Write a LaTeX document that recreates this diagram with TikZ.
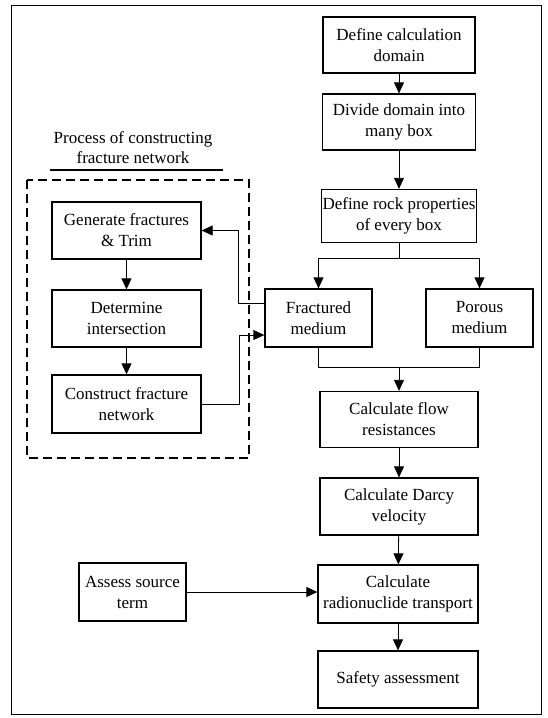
\documentclass[tikz,border=0pt]{standalone}
\usepackage{fontspec}
\setmainfont{Liberation Serif}
\usetikzlibrary{arrows.meta}
\begin{document}
\begin{tikzpicture}[x=1pt,y=-1pt,
  box/.style={draw, line width=1.3pt, rectangle, inner sep=0pt, align=center,
    font=\fontsize{17}{21}\selectfont},
  arr/.style={line width=0.8pt, -{Triangle[length=11pt,width=10pt]}},
  ln/.style={line width=0.8pt},
  dashbox/.style={draw, line width=2.6pt, dash pattern=on 9pt off 5pt}]
\useasboundingbox (0,0) rectangle (547,718);
\draw[line width=0.9pt] (11,5) rectangle (541,714);

% right column
\node[box, minimum width=152pt, minimum height=56pt] (calc) at (399,45) {Define calculation\\domain};
\node[box, minimum width=153pt, minimum height=56pt] (divide) at (399,122) {Divide domain into\\many box};
\node[box, minimum width=155pt, minimum height=53pt] (rock) at (399,216) {Define rock properties\\of every box};
\node[box, minimum width=107pt, minimum height=58pt] (frac) at (318.5,318) {Fractured\\medium};
\node[box, minimum width=107pt, minimum height=58pt] (por) at (479.5,318) {Porous\\medium};
\node[box, minimum width=158pt, minimum height=56pt] (flow) at (399,419.5) {Calculate flow\\resistances};
\node[box, minimum width=158pt, minimum height=57pt] (darcy) at (399,506.5) {Calculate Darcy\\velocity};
\node[box, minimum width=160pt, minimum height=58pt] (radio) at (398,594) {Calculate\\radionuclide transport};
\node[box, minimum width=160pt, minimum height=57pt] (safe) at (398,679.5) {Safety assessment};

% left column
\node[align=center, font=\fontsize{17}{20}\selectfont] (title) at (133,148) {Process of constructing\\fracture network};
\draw[line width=1.3pt] (50,170) -- (223,170);
\draw[dashbox] (27,180) rectangle (249,458);
\node[box, minimum width=149pt, minimum height=57pt] (gen) at (126.5,230.5) {Generate fractures\\\& Trim};
\node[box, minimum width=149pt, minimum height=57pt] (det) at (126.5,318.5) {Determine\\intersection};
\node[box, minimum width=149pt, minimum height=58pt] (con) at (126.5,404) {Construct fracture\\network};
\node[box, minimum width=107pt, minimum height=58pt] (assess) at (132.5,592) {Assess source\\term};

% connectors
\draw[arr] (calc) -- (divide);
\draw[arr] (divide) -- (rock);
\coordinate (sp) at (399,258);
\draw[ln] (rock.south) -- (sp);
\draw[arr] (sp) -| (frac.north);
\draw[arr] (sp) -| (por.north);
\coordinate (mg) at (399,367);
\draw[ln] (frac.south) |- (mg);
\draw[ln] (por.south) |- (mg);
\draw[arr] (mg) -- (flow.north);
\draw[arr] (flow) -- (darcy);
\draw[arr] (darcy) -- (radio);
\draw[arr] (radio) -- (safe);
\draw[arr] (assess.east) -- (assess.east -| radio.west);

\draw[arr] (gen) -- (det);
\draw[arr] (det) -- (con);
\draw[arr] ([yshift=15pt]frac.west) -- ++(-26,0) |- (gen.east);
\draw[arr] (con.east) -- ++(38,0) |- ([yshift=-17pt]frac.west);
\end{tikzpicture}
\end{document}
